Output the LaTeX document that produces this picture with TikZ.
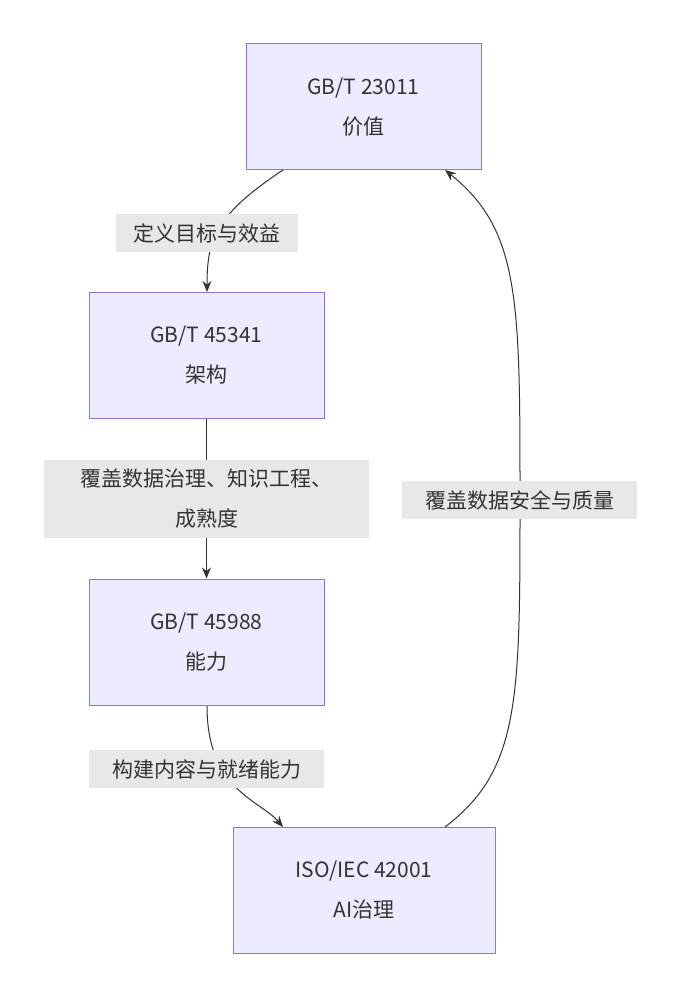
\documentclass[tikz,border=0pt]{standalone}
\usepackage{fontspec}
\setmainfont{Noto Sans CJK SC}
\usetikzlibrary{arrows.meta}
\definecolor{boxfill}{HTML}{ECECFF}
\definecolor{boxline}{HTML}{9370DB}
\definecolor{lblfill}{HTML}{E8E8E8}
\tikzset{
  stdbox/.style={draw=boxline,fill=boxfill,line width=1pt,minimum height=126pt,
    align=center,font=\fontsize{21}{40}\selectfont,text=black!80},
  edgelbl/.style={fill=lblfill,align=center,font=\fontsize{21}{40}\selectfont,
    text=black!80,inner sep=2pt},
  link/.style={draw=black!80,line width=1pt,-{Stealth[length=11pt,width=9pt]}}
}
\begin{document}
\begin{tikzpicture}[x=1pt,y=-1pt]
\useasboundingbox (0,0) rectangle (683,1000);
\node[stdbox,minimum width=235pt] (Value) at (363.5,107) {GB/T 23011\\价值};
\node[stdbox,minimum width=235pt] (Arch) at (206.5,355) {GB/T 45341\\架构};
\node[stdbox,minimum width=235pt] (Cap) at (206.5,642) {GB/T 45988\\能力};
\node[stdbox,minimum width=262pt] (Gov) at (364,890) {ISO/IEC 42001\\AI治理};
\coordinate (ValueOut) at (283,170);
\coordinate (ArchIn) at (207,292);
\coordinate (CapOut) at (207,706);
\coordinate (GovIn) at (283,827);
\coordinate (GovOut) at (445,827);
\coordinate (ValueIn) at (445,170);
\draw[link] (ValueOut) .. controls (215,215) and (207,240) .. (ArchIn);
\draw[link] (Arch.south) -- (Cap.north);
\draw[link] (CapOut) .. controls (207,790) and (260,800) .. (GovIn);
\draw[link] (GovOut) .. controls (520,770) and (520,700) .. (520,500)
  .. controls (520,300) and (520,230) .. (ValueIn);
\node[edgelbl,minimum width=182pt,minimum height=38pt] (L1) at (207,233) {定义目标与效益};
\node[edgelbl,minimum width=325pt,minimum height=78pt] (L2) at (206.5,499) {覆盖数据治理、知识工程、\\成熟度};
\node[edgelbl,minimum width=235pt,minimum height=38pt] (L3) at (206.5,769) {构建内容与就绪能力};
\node[edgelbl,minimum width=235pt,minimum height=38pt] (L4) at (519.5,500) {覆盖数据安全与质量};
\end{tikzpicture}
\end{document}
